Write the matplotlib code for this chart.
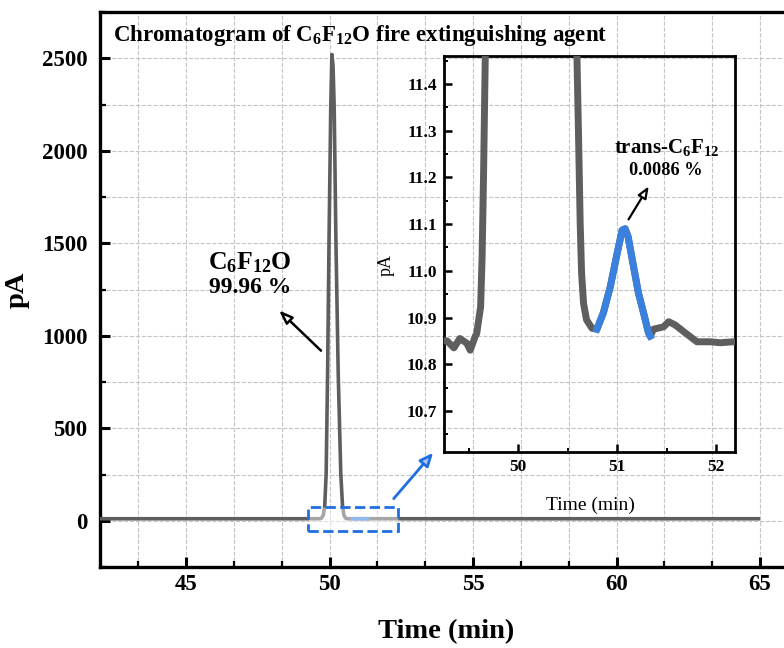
import matplotlib
matplotlib.use("Agg")
from matplotlib import pyplot as plt
from matplotlib.patches import Rectangle
from matplotlib.ticker import MultipleLocator, FormatStrFormatter

# chromatogram (time in min, signal in pA)
t_gc = [42.0, 45.0, 49.28, 49.35, 49.41, 49.48, 49.515, 49.566, 49.58, 49.62,
        49.635, 49.65, 49.667, 49.72, 49.78, 49.83, 49.88, 49.93, 49.98, 50.04,
        50.08, 50.12, 50.16, 50.22, 50.30, 50.39, 50.45, 50.50, 50.55, 50.593,
        50.61, 50.626, 50.64, 50.66, 50.69, 50.745, 50.795, 50.86, 50.93, 51.0,
        51.05, 51.08, 51.11, 51.165, 51.215, 51.266, 51.316, 51.333, 51.367,
        51.468, 51.52, 51.586, 51.67, 51.805, 51.94, 52.04, 52.175, 52.3, 65.0]
pa_gc = [10.85, 10.85, 10.85, 10.835, 10.855, 10.845, 10.83, 10.86, 10.865, 10.923,
         11.03, 11.21, 11.46, 14, 30, 80, 254, 795, 1515, 2235,
         2520, 2460, 2235, 1515, 795, 254, 80, 30, 15, 11.46,
         11.28, 11.10, 10.995, 10.93, 10.895, 10.877, 10.875, 10.91, 10.966, 11.038,
         11.087, 11.09, 11.073, 11.009, 10.952, 10.91, 10.867, 10.86, 10.875,
         10.88, 10.891, 10.884, 10.87, 10.848, 10.848, 10.846, 10.848, 10.85, 10.85]

# trans-C6F12 peak
t_trans = [50.795, 50.86, 50.93, 51.0, 51.05, 51.08, 51.11, 51.165, 51.215, 51.266, 51.316, 51.333]
pa_trans = [10.875, 10.91, 10.966, 11.038, 11.087, 11.09, 11.073, 11.009, 10.952, 10.91, 10.867, 10.86]

main_label = r"$\mathbf{C_6F_{12}O}$"
main_pct = "99.96 %"
trans_label = r"trans-$\mathbf{C_6F_{12}}$"
trans_pct = "0.0086 %"

plt.rcParams['font.family'] = ['Liberation Serif', 'DejaVu Serif']
plt.rcParams['mathtext.fontset'] = 'custom'
plt.rcParams['mathtext.rm'] = 'Liberation Serif'
plt.rcParams['mathtext.bf'] = 'Liberation Serif:bold'
plt.rcParams['mathtext.it'] = 'Liberation Serif:italic'

GRAY = '#5e5e5e'
BLUE = '#3a80de'
BOXBLUE = '#1f6fe0'

fig = plt.figure(figsize=(7.84, 6.48), dpi=100)
ax = fig.add_axes([100 / 784, 81 / 648, 688.8 / 784, 555 / 648])
ax.plot(t_gc, pa_gc, color=GRAY, lw=2.6, solid_capstyle='butt', zorder=3)
ax.plot(t_trans, pa_trans, color=BLUE, lw=2.6, zorder=4)
ax.set_xlim(42, 66)
ax.set_ylim(-250, 2750)
ax.xaxis.set_major_locator(MultipleLocator(5))
ax.xaxis.set_minor_locator(MultipleLocator(5 / 3))
ax.yaxis.set_major_locator(MultipleLocator(500))
ax.yaxis.set_minor_locator(MultipleLocator(250))
ax.grid(True, which='both', ls='--', color='#c4c4c4', lw=0.8, zorder=0)
ax.tick_params(which='both', direction='in', top=False, right=False)
ax.tick_params(which='major', length=7, width=2.2, labelsize=16.5)
ax.tick_params(axis='x', which='major', pad=5)
ax.tick_params(axis='y', which='major', pad=9)
ax.tick_params(which='minor', length=4, width=1.6)
for lab in ax.get_xticklabels() + ax.get_yticklabels():
    lab.set_fontweight('bold')
for sp in ax.spines.values():
    sp.set_linewidth(2.4)
ax.set_xlabel("Time (min)", fontsize=20.5, fontweight='bold')
ax.set_ylabel("pA", fontsize=20.5, fontweight='bold')
ax.xaxis.set_label_coords(0.502, -0.093)
ax.yaxis.set_label_coords(-0.1016, 0.499)

# zoom box and arrow
ax.add_patch(Rectangle((49.25, -54), 3.13, 130, fc=(1, 1, 1, 0.45), ec=BOXBLUE,
                       ls='--', lw=2.0, zorder=5))
ax.annotate("", xy=(53.67, 379), xytext=(52.17, 108),
            arrowprops=dict(arrowstyle='-|>,head_length=0.8,head_width=0.35',
                            ec=BOXBLUE, fc='#a9c8f2', lw=2.0), zorder=6)

ax.annotate("", xy=(48.17, 1147), xytext=(49.77, 909),
            arrowprops=dict(arrowstyle='-|>,head_length=0.8,head_width=0.3',
                            ec='black', fc='white', lw=1.8), zorder=6)
ax.text(47.23, 1396, main_label, fontsize=18.5, fontweight='bold', ha='center', va='center')
ax.text(47.23, 1261, main_pct, fontsize=17, fontweight='bold', ha='center', va='center')

fig.text(113 / 784, 1 - 35 / 648,
         r"Chromatogram of $\mathbf{C_6F_{12}O}$ fire extinguishing agent",
         fontsize=16.5, fontweight='bold', ha='left', va='center')

# inset
ins = fig.add_axes([444 / 784, 196 / 648, 291 / 784, 396 / 648])
ins.set_facecolor('none')
ins.plot(t_gc, pa_gc, color=GRAY, lw=5, zorder=3)
ins.plot(t_trans, pa_trans, color=BLUE, lw=5, zorder=4)
ins.set_xlim(49.25, 52.19)
ins.set_ylim(10.612, 11.46)
ins.xaxis.set_major_locator(MultipleLocator(1))
ins.xaxis.set_minor_locator(MultipleLocator(0.5))
ins.yaxis.set_major_locator(MultipleLocator(0.1))
ins.yaxis.set_minor_locator(MultipleLocator(0.05))
ins.yaxis.set_major_formatter(FormatStrFormatter('%.1f'))
ins.tick_params(which='both', direction='in', top=False, right=False)
ins.tick_params(which='major', length=6, width=1.8, labelsize=12.5, pad=5)
ins.tick_params(which='minor', length=3, width=1.4)
for lab in ins.get_xticklabels() + ins.get_yticklabels():
    lab.set_fontweight('bold')
for sp in ins.spines.values():
    sp.set_linewidth(2.0)
ins.set_xlabel("Time (min)", fontsize=14)
ins.set_ylabel("pA", fontsize=13)
ins.xaxis.set_label_coords(0.502, -0.114)
ins.yaxis.set_label_coords(-0.168, 0.472)

ins.annotate("", xy=(51.333, 11.186), xytext=(51.10, 11.105),
             arrowprops=dict(arrowstyle='-|>,head_length=0.7,head_width=0.28',
                             ec='black', fc='white', lw=1.6), zorder=6)
ins.text(51.495, 11.263, trans_label, fontsize=15, fontweight='bold', ha='center', va='center')
ins.text(51.495, 11.214, trans_pct, fontsize=13.2, fontweight='bold', ha='center', va='center')

fig.savefig("out.png", dpi=100)
